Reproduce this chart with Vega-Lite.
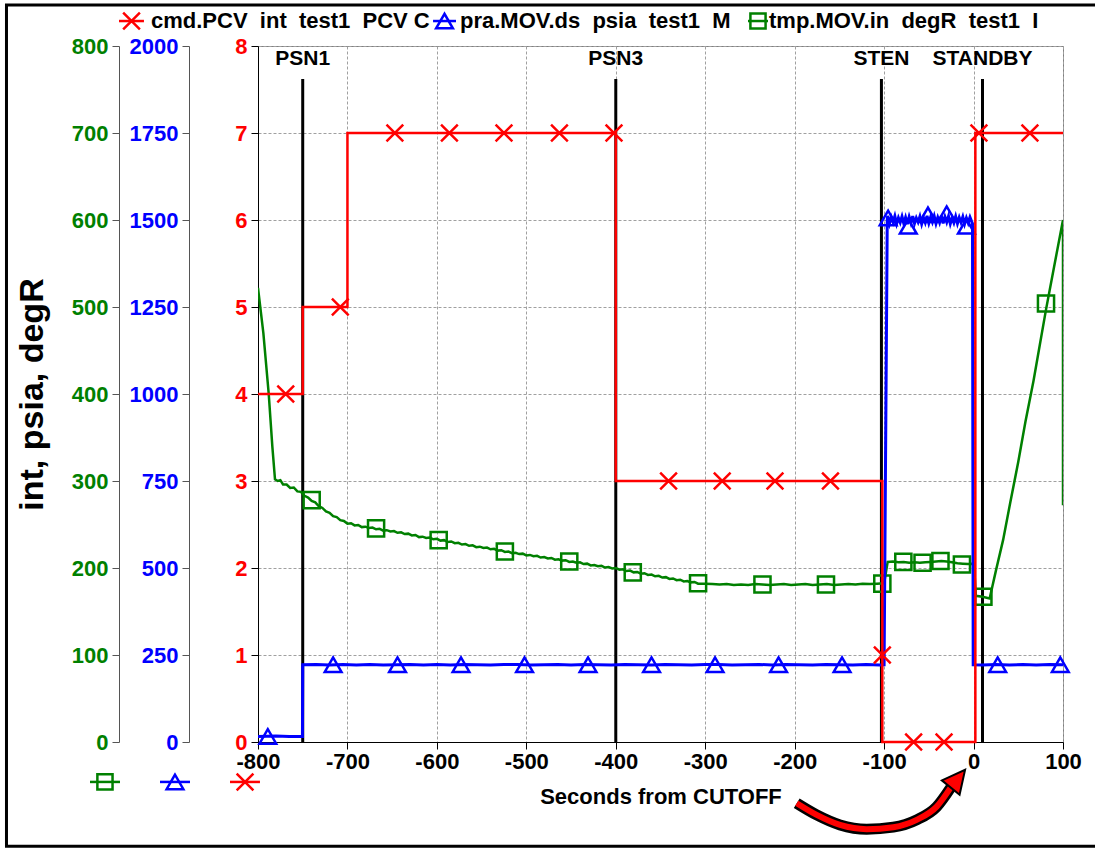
{
  "$schema": "https://vega.github.io/schema/vega-lite/v6.json",
  "width": 805,
  "height": 696,
  "autosize": {"type": "none"},
  "padding": {"left": 258, "top": 46, "right": 32, "bottom": 106},
  "background": "white",
  "config": {
    "view": {"stroke": "#808080", "strokeWidth": 1},
    "point": {"opacity": 1},
    "axis": {
      "labelFont": "Liberation Sans", "labelFontWeight": "bold", "labelFontSize": 22,
      "titleFont": "Liberation Sans", "titleFontWeight": "bold", "titleFontSize": 22, "titleColor": "#000",
      "tickSize": 7, "tickColor": "#000", "domainColor": "#000", "labelFlush": false, "labelOverlap": false,
      "gridColor": "#a0a0a0", "gridDash": [3, 2], "gridWidth": 1, "labelPadding": 4
    },
    "text": {"font": "Liberation Sans"}
  },
  "datasets": {
    "events": [
      {"t": -750, "label": "PSN1"},
      {"t": -400, "label": "PSN3"},
      {"t": -103, "label": "STEN"},
      {"t": 10, "label": "STANDBY"}
    ],
    "red": [
      {"t": -800, "v": 4}, {"t": -750, "v": 5}, {"t": -700, "v": 7}, {"t": -400, "v": 3},
      {"t": -102, "v": 0}, {"t": 2, "v": 7}, {"t": 100, "v": 7}
    ],
    "redMarks": [
      {"t": -769, "v": 4}, {"t": -708, "v": 5}, {"t": -647, "v": 7}, {"t": -586, "v": 7},
      {"t": -525, "v": 7}, {"t": -463, "v": 7}, {"t": -402, "v": 7}, {"t": -341, "v": 3},
      {"t": -281, "v": 3}, {"t": -222, "v": 3}, {"t": -160, "v": 3}, {"t": -102, "v": 1},
      {"t": -67, "v": 0}, {"t": -33, "v": 0}, {"t": 6, "v": 7}, {"t": 63, "v": 7}
    ],
    "blue": [
      {"t": -800, "v": 16}, {"t": -780, "v": 17}, {"t": -765, "v": 16}, {"t": -750.3, "v": 16},
      {"t": -750, "v": 222}, {"t": -735, "v": 223}, {"t": -720, "v": 221}, {"t": -705, "v": 222.5},
      {"t": -690, "v": 221.5}, {"t": -675, "v": 223}, {"t": -660, "v": 221}, {"t": -645, "v": 222},
      {"t": -630, "v": 223}, {"t": -615, "v": 221.5}, {"t": -600, "v": 222.5}, {"t": -585, "v": 221},
      {"t": -570, "v": 223}, {"t": -555, "v": 222}, {"t": -540, "v": 221}, {"t": -525, "v": 222.5},
      {"t": -510, "v": 223}, {"t": -495, "v": 221.5}, {"t": -480, "v": 222}, {"t": -465, "v": 223},
      {"t": -450, "v": 221}, {"t": -435, "v": 222.5}, {"t": -420, "v": 222}, {"t": -405, "v": 221},
      {"t": -390, "v": 223}, {"t": -375, "v": 222}, {"t": -360, "v": 221.5}, {"t": -345, "v": 223},
      {"t": -330, "v": 222}, {"t": -315, "v": 221}, {"t": -300, "v": 222.5}, {"t": -285, "v": 223},
      {"t": -270, "v": 221.5}, {"t": -255, "v": 222}, {"t": -240, "v": 223}, {"t": -225, "v": 221},
      {"t": -210, "v": 222.5}, {"t": -195, "v": 222}, {"t": -180, "v": 221}, {"t": -165, "v": 223},
      {"t": -150, "v": 222}, {"t": -135, "v": 221.5}, {"t": -120, "v": 222.5}, {"t": -105, "v": 221.5},
      {"t": -100, "v": 222}, {"t": -96.5, "v": 1500},
      {"t": -96, "v": 1512}, {"t": -94, "v": 1490}, {"t": -92, "v": 1508}, {"t": -90, "v": 1494},
      {"t": -88, "v": 1511}, {"t": -86, "v": 1489}, {"t": -84, "v": 1506}, {"t": -82, "v": 1493},
      {"t": -80, "v": 1510}, {"t": -78, "v": 1490}, {"t": -76, "v": 1507}, {"t": -74, "v": 1488},
      {"t": -72, "v": 1509}, {"t": -70, "v": 1492}, {"t": -68, "v": 1511}, {"t": -66, "v": 1490},
      {"t": -64, "v": 1506}, {"t": -62, "v": 1494}, {"t": -60, "v": 1510}, {"t": -58, "v": 1489},
      {"t": -56, "v": 1507}, {"t": -54, "v": 1493}, {"t": -52, "v": 1512}, {"t": -50, "v": 1491},
      {"t": -48, "v": 1508}, {"t": -46, "v": 1494}, {"t": -44, "v": 1511}, {"t": -42, "v": 1490},
      {"t": -40, "v": 1507}, {"t": -38, "v": 1493}, {"t": -36, "v": 1512}, {"t": -34, "v": 1490},
      {"t": -32, "v": 1509}, {"t": -30, "v": 1494}, {"t": -28, "v": 1511}, {"t": -26, "v": 1489},
      {"t": -24, "v": 1506}, {"t": -22, "v": 1492}, {"t": -20, "v": 1510}, {"t": -18, "v": 1490},
      {"t": -16, "v": 1507}, {"t": -14, "v": 1493}, {"t": -12, "v": 1509}, {"t": -10, "v": 1489},
      {"t": -8, "v": 1506}, {"t": -6, "v": 1492}, {"t": -4, "v": 1508}, {"t": -2, "v": 1495},
      {"t": -1.2, "v": 1490}, {"t": -0.4, "v": 222}, {"t": 10, "v": 221}, {"t": 25, "v": 223},
      {"t": 40, "v": 221.5}, {"t": 55, "v": 222.5}, {"t": 70, "v": 221}, {"t": 85, "v": 223}, {"t": 100, "v": 222}
    ],
    "blueMarks": [
      {"t": -789, "v": 16}, {"t": -716, "v": 222}, {"t": -644, "v": 222}, {"t": -573, "v": 222},
      {"t": -502, "v": 222}, {"t": -431, "v": 222}, {"t": -360, "v": 222}, {"t": -289, "v": 222},
      {"t": -218, "v": 222}, {"t": -147, "v": 222}, {"t": -95.5, "v": 1506}, {"t": -73, "v": 1482},
      {"t": -51, "v": 1515}, {"t": -30, "v": 1518}, {"t": -8, "v": 1482}, {"t": 27, "v": 222}, {"t": 97, "v": 222}
    ],
    "green": [
      {"t": -800, "v": 522}, {"t": -794, "v": 470}, {"t": -788, "v": 400}, {"t": -784, "v": 340},
      {"t": -781, "v": 302}, {"t": -778, "v": 300}, {"t": -775, "v": 301}, {"t": -772, "v": 296},
      {"t": -768, "v": 296}, {"t": -764, "v": 292}, {"t": -760, "v": 292.5}, {"t": -756, "v": 288},
      {"t": -752, "v": 287.5}, {"t": -748, "v": 283}, {"t": -744, "v": 281}, {"t": -740, "v": 277},
      {"t": -736, "v": 275.5}, {"t": -732, "v": 271}, {"t": -728, "v": 269}, {"t": -724, "v": 265},
      {"t": -720, "v": 263.5}, {"t": -716, "v": 259.5}, {"t": -712, "v": 258.5}, {"t": -708, "v": 255},
      {"t": -704, "v": 254}, {"t": -700, "v": 251}, {"t": -696, "v": 251.5}, {"t": -692, "v": 249},
      {"t": -688, "v": 249.5}, {"t": -684, "v": 247}, {"t": -680, "v": 247.5}, {"t": -676, "v": 246},
      {"t": -672, "v": 246.5}, {"t": -668, "v": 244.5}, {"t": -664, "v": 245}, {"t": -660, "v": 243},
      {"t": -656, "v": 243.5}, {"t": -652, "v": 242}, {"t": -648, "v": 242.5}, {"t": -644, "v": 240.5},
      {"t": -640, "v": 241}, {"t": -636, "v": 239}, {"t": -632, "v": 239.5}, {"t": -628, "v": 237.5},
      {"t": -624, "v": 238}, {"t": -620, "v": 235.5}, {"t": -616, "v": 236}, {"t": -612, "v": 234.5},
      {"t": -608, "v": 235}, {"t": -604, "v": 233}, {"t": -600, "v": 233.5}, {"t": -596, "v": 231.5},
      {"t": -592, "v": 232}, {"t": -588, "v": 230}, {"t": -584, "v": 230.5}, {"t": -580, "v": 228.5},
      {"t": -576, "v": 229}, {"t": -572, "v": 227}, {"t": -568, "v": 227.5}, {"t": -564, "v": 225.5},
      {"t": -560, "v": 226}, {"t": -556, "v": 224}, {"t": -552, "v": 224.5}, {"t": -548, "v": 223},
      {"t": -544, "v": 223.5}, {"t": -540, "v": 221.5}, {"t": -536, "v": 222}, {"t": -532, "v": 220},
      {"t": -528, "v": 220.5}, {"t": -524, "v": 218.5}, {"t": -520, "v": 219}, {"t": -516, "v": 217},
      {"t": -512, "v": 217.5}, {"t": -508, "v": 216}, {"t": -504, "v": 216.5}, {"t": -500, "v": 214.5},
      {"t": -496, "v": 215}, {"t": -492, "v": 213.5}, {"t": -488, "v": 214}, {"t": -484, "v": 212},
      {"t": -480, "v": 212.5}, {"t": -476, "v": 211}, {"t": -472, "v": 211.5}, {"t": -468, "v": 209.5},
      {"t": -464, "v": 210}, {"t": -460, "v": 208.5}, {"t": -456, "v": 209}, {"t": -452, "v": 207},
      {"t": -448, "v": 207.5}, {"t": -444, "v": 206}, {"t": -440, "v": 206.5}, {"t": -436, "v": 204.5},
      {"t": -432, "v": 205}, {"t": -428, "v": 203}, {"t": -424, "v": 203.5}, {"t": -420, "v": 202},
      {"t": -416, "v": 202.5}, {"t": -412, "v": 200.5}, {"t": -408, "v": 201}, {"t": -404, "v": 199.5},
      {"t": -400, "v": 200}, {"t": -396, "v": 198}, {"t": -392, "v": 198.5}, {"t": -388, "v": 196.5},
      {"t": -384, "v": 197}, {"t": -380, "v": 195}, {"t": -376, "v": 195.5}, {"t": -372, "v": 193.5},
      {"t": -368, "v": 194}, {"t": -364, "v": 192}, {"t": -360, "v": 192.5}, {"t": -356, "v": 190.5},
      {"t": -352, "v": 191}, {"t": -348, "v": 189}, {"t": -344, "v": 189.5}, {"t": -340, "v": 187.5},
      {"t": -336, "v": 188}, {"t": -332, "v": 186}, {"t": -328, "v": 186.5}, {"t": -324, "v": 184.5},
      {"t": -320, "v": 185}, {"t": -316, "v": 183.5}, {"t": -312, "v": 184}, {"t": -308, "v": 182},
      {"t": -300, "v": 182}, {"t": -292, "v": 181.5}, {"t": -284, "v": 181}, {"t": -276, "v": 181.5},
      {"t": -268, "v": 180.5}, {"t": -260, "v": 181}, {"t": -252, "v": 180.5}, {"t": -244, "v": 181.5},
      {"t": -236, "v": 181}, {"t": -228, "v": 180.5}, {"t": -220, "v": 181}, {"t": -212, "v": 181.5},
      {"t": -204, "v": 180.5}, {"t": -196, "v": 181}, {"t": -188, "v": 181.5}, {"t": -180, "v": 180.5},
      {"t": -172, "v": 181}, {"t": -164, "v": 181.5}, {"t": -156, "v": 180.5}, {"t": -148, "v": 181},
      {"t": -140, "v": 181.5}, {"t": -132, "v": 181}, {"t": -124, "v": 182}, {"t": -116, "v": 181.5},
      {"t": -108, "v": 182}, {"t": -100, "v": 182.5}, {"t": -96, "v": 207},
      {"t": -90, "v": 207.5}, {"t": -84, "v": 206.5}, {"t": -78, "v": 207}, {"t": -72, "v": 206},
      {"t": -66, "v": 206.5}, {"t": -60, "v": 206}, {"t": -54, "v": 206.5}, {"t": -48, "v": 207},
      {"t": -42, "v": 207.5}, {"t": -36, "v": 208}, {"t": -30, "v": 207.5}, {"t": -24, "v": 206.5},
      {"t": -18, "v": 205.5}, {"t": -12, "v": 205}, {"t": -6, "v": 204.5}, {"t": 0.5, "v": 205},
      {"t": 2.5, "v": 168}, {"t": 10, "v": 167}, {"t": 18, "v": 165}, {"t": 25, "v": 197},
      {"t": 33, "v": 232}, {"t": 41, "v": 275}, {"t": 50, "v": 322}, {"t": 58, "v": 368},
      {"t": 67, "v": 415}, {"t": 74, "v": 456}, {"t": 81, "v": 497}, {"t": 90, "v": 546},
      {"t": 100, "v": 600}, {"t": 100, "v": 272}
    ],
    "greenMarks": [
      {"t": -740, "v": 278}, {"t": -668, "v": 245.5}, {"t": -598, "v": 232}, {"t": -524, "v": 219},
      {"t": -452, "v": 207.5}, {"t": -381, "v": 195}, {"t": -308, "v": 182.5}, {"t": -236, "v": 181},
      {"t": -165, "v": 181}, {"t": -102, "v": 182}, {"t": -78.5, "v": 207}, {"t": -57, "v": 206},
      {"t": -37, "v": 208}, {"t": -13, "v": 204}, {"t": 11, "v": 167}, {"t": 81, "v": 504}
    ],
    "arrow": [
      {"t": -197.7, "v": -0.704}, {"t": -175.4, "v": -0.838}, {"t": -149.3, "v": -0.953},
      {"t": -119.5, "v": -1.002}, {"t": -89.7, "v": -0.979}, {"t": -63.6, "v": -0.895},
      {"t": -41.2, "v": -0.743}, {"t": -25.4, "v": -0.522}
    ]
  },
  "layer": [
    {
      "data": {"name": "events"},
      "mark": {"type": "rule", "color": "black", "strokeWidth": 3},
      "encoding": {
        "x": {"field": "t", "type": "quantitative",
          "scale": {"domain": [-800, 100], "nice": false, "zero": false},
          "axis": {"values": [-800, -700, -600, -500, -400, -300, -200, -100, 0, 100],
            "labelExpr": "replace(datum.label, '\u2212', '-')",
            "title": "Seconds from CUTOFF", "grid": true, "labelColor": "#000", "labelPadding": 2, "titlePadding": 14}},
        "y": {"datum": 0, "type": "quantitative",
          "scale": {"domain": [0, 8], "nice": false, "zero": false},
          "axis": {"orient": "left", "offset": 0, "values": [0, 1, 2, 3, 4, 5, 6, 7, 8], "grid": true,
            "labelColor": "#ff0000", "title": null}},
        "y2": {"datum": 7.62}
      }
    },
    {
      "data": {"name": "events"},
      "mark": {"type": "text", "fontSize": 21, "fontWeight": "bold", "color": "black", "align": "center", "baseline": "middle"},
      "encoding": {
        "x": {"field": "t", "type": "quantitative", "scale": {"domain": [-800, 100], "nice": false, "zero": false}},
        "y": {"datum": 7.851, "type": "quantitative", "scale": {"domain": [0, 8], "nice": false, "zero": false}, "axis": null},
        "text": {"field": "label"}
      }
    },
    {
      "data": {"values": [{}]},
      "mark": {"type": "rect", "filled": false, "fill": null, "stroke": "black", "strokeWidth": 3},
      "encoding": {
        "x": {"datum": -1081.2, "type": "quantitative", "scale": {"domain": [-800, 100], "nice": false, "zero": false}},
        "x2": {"datum": 141.4},
        "y": {"datum": 8.4706, "type": "quantitative", "scale": {"domain": [0, 8], "nice": false, "zero": false}, "axis": null},
        "y2": {"datum": -1.1994}
      }
    },
    {
      "data": {"values": [{}]},
      "mark": {"type": "rule", "color": "#ff0000", "strokeWidth": 2.5},
      "encoding": {
        "x": {"datum": -955.4, "type": "quantitative"}, "x2": {"datum": -927.5},
        "y": {"datum": 8.287, "type": "quantitative", "scale": {"domain": [0, 8], "nice": false, "zero": false}, "axis": null}
      }
    },
    {
      "data": {"values": [{}]},
      "mark": {"type": "point", "shape": "M-1,-1L1,1M-1,1L1,-1", "size": 280, "filled": false, "color": "#ff0000", "strokeWidth": 2.5},
      "encoding": {
        "x": {"datum": -941.4, "type": "quantitative"},
        "y": {"datum": 8.287, "type": "quantitative", "scale": {"domain": [0, 8], "nice": false, "zero": false}, "axis": null}
      }
    },
    {
      "data": {"values": [{}]},
      "mark": {"type": "text", "align": "left", "baseline": "middle", "fontSize": 22, "fontWeight": "bold", "color": "black",
        "text": "cmd.PCV\u00a0\u00a0int\u00a0\u00a0test1\u00a0\u00a0PCV\u00a0C"},
      "encoding": {
        "x": {"datum": -919.6, "type": "quantitative"},
        "y": {"datum": 8.287, "type": "quantitative", "scale": {"domain": [0, 8], "nice": false, "zero": false}, "axis": null}
      }
    },
    {
      "data": {"values": [{}]},
      "mark": {"type": "rule", "color": "#0000ff", "strokeWidth": 2.5},
      "encoding": {
        "x": {"datum": -604.3, "type": "quantitative"}, "x2": {"datum": -578.6},
        "y": {"datum": 8.287, "type": "quantitative", "scale": {"domain": [0, 8], "nice": false, "zero": false}, "axis": null}
      }
    },
    {
      "data": {"values": [{}]},
      "mark": {"type": "point", "shape": "triangle-up", "size": 280, "filled": false, "color": "#0000ff", "strokeWidth": 2.5},
      "encoding": {
        "x": {"datum": -591.5, "type": "quantitative"},
        "y": {"datum": 8.287, "type": "quantitative", "scale": {"domain": [0, 8], "nice": false, "zero": false}, "axis": null}
      }
    },
    {
      "data": {"values": [{}]},
      "mark": {"type": "text", "align": "left", "baseline": "middle", "fontSize": 22, "fontWeight": "bold", "color": "black",
        "text": "pra.MOV.ds\u00a0\u00a0psia\u00a0\u00a0test1\u00a0\u00a0M"},
      "encoding": {
        "x": {"datum": -574.2, "type": "quantitative"},
        "y": {"datum": 8.287, "type": "quantitative", "scale": {"domain": [0, 8], "nice": false, "zero": false}, "axis": null}
      }
    },
    {
      "data": {"values": [{}]},
      "mark": {"type": "rule", "color": "#008000", "strokeWidth": 2.5},
      "encoding": {
        "x": {"datum": -252.2, "type": "quantitative"}, "x2": {"datum": -229.8},
        "y": {"datum": 8.287, "type": "quantitative", "scale": {"domain": [0, 8], "nice": false, "zero": false}, "axis": null}
      }
    },
    {
      "data": {"values": [{}]},
      "mark": {"type": "point", "shape": "square", "size": 230, "filled": false, "color": "#008000", "strokeWidth": 2.5},
      "encoding": {
        "x": {"datum": -241.0, "type": "quantitative"},
        "y": {"datum": 8.287, "type": "quantitative", "scale": {"domain": [0, 8], "nice": false, "zero": false}, "axis": null}
      }
    },
    {
      "data": {"values": [{}]},
      "mark": {"type": "text", "align": "left", "baseline": "middle", "fontSize": 22, "fontWeight": "bold", "color": "black",
        "text": "tmp.MOV.in\u00a0\u00a0degR\u00a0\u00a0test1\u00a0\u00a0I"},
      "encoding": {
        "x": {"datum": -228.7, "type": "quantitative"},
        "y": {"datum": 8.287, "type": "quantitative", "scale": {"domain": [0, 8], "nice": false, "zero": false}, "axis": null}
      }
    },
    {
      "data": {"values": [{}]},
      "mark": {"type": "rule", "color": "#008000", "strokeWidth": 2.5},
      "encoding": {
        "x": {"datum": -987.8, "type": "quantitative"}, "x2": {"datum": -954.3},
        "y": {"datum": -0.459, "type": "quantitative", "scale": {"domain": [0, 8], "nice": false, "zero": false}, "axis": null}
      }
    },
    {
      "data": {"values": [{}]},
      "mark": {"type": "point", "shape": "square", "size": 230, "filled": false, "color": "#008000", "strokeWidth": 2.5},
      "encoding": {
        "x": {"datum": -971.1, "type": "quantitative"},
        "y": {"datum": -0.459, "type": "quantitative", "scale": {"domain": [0, 8], "nice": false, "zero": false}, "axis": null}
      }
    },
    {
      "data": {"values": [{}]},
      "mark": {"type": "rule", "color": "#0000ff", "strokeWidth": 2.5},
      "encoding": {
        "x": {"datum": -909.6, "type": "quantitative"}, "x2": {"datum": -876.0},
        "y": {"datum": -0.459, "type": "quantitative", "scale": {"domain": [0, 8], "nice": false, "zero": false}, "axis": null}
      }
    },
    {
      "data": {"values": [{}]},
      "mark": {"type": "point", "shape": "triangle-up", "size": 280, "filled": false, "color": "#0000ff", "strokeWidth": 2.5},
      "encoding": {
        "x": {"datum": -892.8, "type": "quantitative"},
        "y": {"datum": -0.459, "type": "quantitative", "scale": {"domain": [0, 8], "nice": false, "zero": false}, "axis": null}
      }
    },
    {
      "data": {"values": [{}]},
      "mark": {"type": "rule", "color": "#ff0000", "strokeWidth": 2.5},
      "encoding": {
        "x": {"datum": -831.3, "type": "quantitative"}, "x2": {"datum": -797.8},
        "y": {"datum": -0.459, "type": "quantitative", "scale": {"domain": [0, 8], "nice": false, "zero": false}, "axis": null}
      }
    },
    {
      "data": {"values": [{}]},
      "mark": {"type": "point", "shape": "M-1,-1L1,1M-1,1L1,-1", "size": 280, "filled": false, "color": "#ff0000", "strokeWidth": 2.5},
      "encoding": {
        "x": {"datum": -814.5, "type": "quantitative"},
        "y": {"datum": -0.459, "type": "quantitative", "scale": {"domain": [0, 8], "nice": false, "zero": false}, "axis": null}
      }
    },
    {
      "data": {"name": "arrow"},
      "mark": {"type": "line", "color": "black", "strokeWidth": 11, "interpolate": "monotone", "strokeCap": "butt"},
      "encoding": {
        "x": {"field": "t", "type": "quantitative", "scale": {"domain": [-800, 100], "nice": false, "zero": false}},
        "y": {"field": "v", "type": "quantitative", "scale": {"domain": [0, 8], "nice": false, "zero": false}, "axis": null},
        "order": {"value": null}
      }
    },
    {
      "data": {"name": "arrow"},
      "mark": {"type": "line", "color": "#ff0000", "strokeWidth": 6, "interpolate": "monotone", "strokeCap": "butt"},
      "encoding": {
        "x": {"field": "t", "type": "quantitative", "scale": {"domain": [-800, 100], "nice": false, "zero": false}},
        "y": {"field": "v", "type": "quantitative", "scale": {"domain": [0, 8], "nice": false, "zero": false}, "axis": null},
        "order": {"value": null}
      }
    },
    {
      "data": {"values": [{}]},
      "mark": {"type": "point", "shape": "M0,-1L1,1L-1,1Z", "size": 520, "filled": true, "fill": "#ff0000", "stroke": "black", "strokeWidth": 2, "opacity": 1, "angle": 39},
      "encoding": {
        "x": {"datum": -17.5, "type": "quantitative"},
        "y": {"datum": -0.4218, "type": "quantitative", "scale": {"domain": [0, 8], "nice": false, "zero": false}, "axis": null}
      }
    },
    {
      "data": {"name": "green"},
      "mark": {"type": "line", "color": "#008000", "strokeWidth": 2.5, "clip": true},
      "encoding": {
        "x": {"field": "t", "type": "quantitative", "scale": {"domain": [-800, 100], "nice": false, "zero": false}},
        "y": {"field": "v", "type": "quantitative",
          "scale": {"domain": [0, 800], "nice": false, "zero": false},
          "axis": {"orient": "left", "offset": 139, "values": [0, 100, 200, 300, 400, 500, 600, 700, 800],
            "labelColor": "#008000", "domainColor": "#555555", "tickColor": "#555555", "grid": false,
            "title": "int, psia, degR", "titleFontSize": 34, "titlePadding": 22}},
        "order": {"value": null}
      }
    },
    {
      "data": {"name": "greenMarks"},
      "mark": {"type": "point", "shape": "square", "size": 260, "filled": false, "color": "#008000", "strokeWidth": 2.5},
      "encoding": {
        "x": {"field": "t", "type": "quantitative", "scale": {"domain": [-800, 100], "nice": false, "zero": false}},
        "y": {"field": "v", "type": "quantitative", "scale": {"domain": [0, 800], "nice": false, "zero": false}, "axis": null}
      }
    },
    {
      "data": {"name": "blue"},
      "mark": {"type": "line", "color": "#0000ff", "strokeWidth": 3, "clip": true},
      "encoding": {
        "x": {"field": "t", "type": "quantitative", "scale": {"domain": [-800, 100], "nice": false, "zero": false}},
        "y": {"field": "v", "type": "quantitative",
          "scale": {"domain": [0, 2000], "nice": false, "zero": false},
          "axis": {"orient": "left", "offset": 69, "values": [0, 250, 500, 750, 1000, 1250, 1500, 1750, 2000], "format": "d",
            "labelColor": "#0000ff", "domainColor": "#555555", "tickColor": "#555555", "grid": false, "title": null}},
        "order": {"value": null}
      }
    },
    {
      "data": {"name": "blueMarks"},
      "mark": {"type": "point", "shape": "triangle-up", "size": 280, "filled": false, "color": "#0000ff", "strokeWidth": 2.5},
      "encoding": {
        "x": {"field": "t", "type": "quantitative", "scale": {"domain": [-800, 100], "nice": false, "zero": false}},
        "y": {"field": "v", "type": "quantitative", "scale": {"domain": [0, 2000], "nice": false, "zero": false}, "axis": null}
      }
    },
    {
      "data": {"name": "red"},
      "mark": {"type": "line", "color": "#ff0000", "strokeWidth": 2.5, "interpolate": "step-after"},
      "encoding": {
        "x": {"field": "t", "type": "quantitative", "scale": {"domain": [-800, 100], "nice": false, "zero": false}},
        "y": {"field": "v", "type": "quantitative", "scale": {"domain": [0, 8], "nice": false, "zero": false}, "axis": null},
        "order": {"value": null}
      }
    },
    {
      "data": {"name": "redMarks"},
      "mark": {"type": "point", "shape": "M-1,-1L1,1M-1,1L1,-1", "size": 280, "filled": false, "color": "#ff0000", "strokeWidth": 2.5},
      "encoding": {
        "x": {"field": "t", "type": "quantitative", "scale": {"domain": [-800, 100], "nice": false, "zero": false}},
        "y": {"field": "v", "type": "quantitative", "scale": {"domain": [0, 8], "nice": false, "zero": false}, "axis": null}
      }
    }
  ],
  "resolve": {"scale": {"y": "independent"}, "axis": {"y": "independent"}}
}
